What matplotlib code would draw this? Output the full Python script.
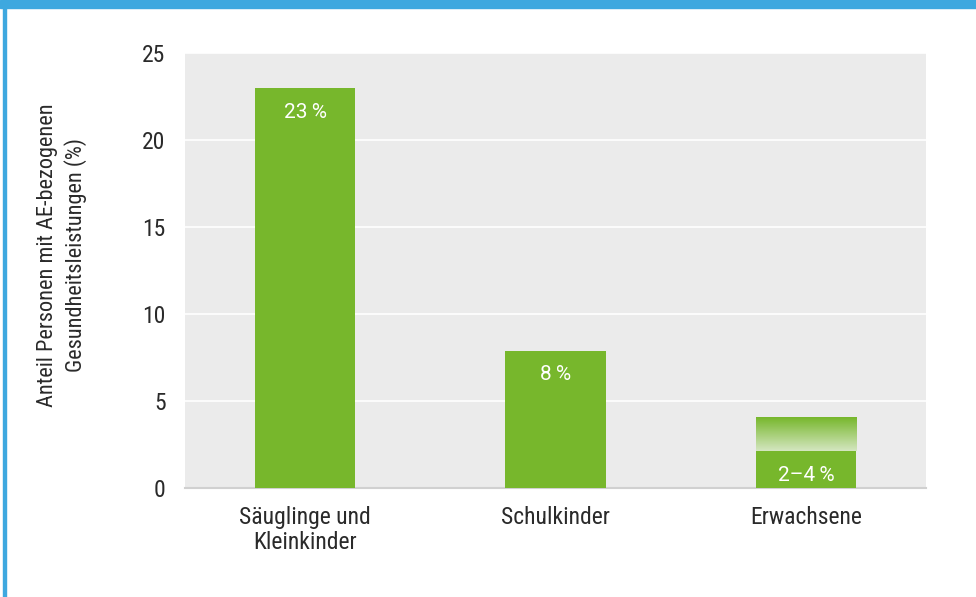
import numpy as np
import matplotlib
matplotlib.use("Agg")
import matplotlib.pyplot as plt
from matplotlib.colors import LinearSegmentedColormap
from matplotlib.patches import Rectangle
from matplotlib import font_manager

# daten
kategorien = ["Säuglinge und\nKleinkinder", "Schulkinder", "Erwachsene"]
werte = [23.0, 7.9, 2.1]           # sicherer Anteil
werte_oben = [23.0, 7.9, 4.0]      # obere Grenze (Spanne bei Erwachsenen)
beschriftung = ["23\u2009%", "8\u2009%", "2\u20134\u2009%"]
yticks = [0, 5, 10, 15, 20, 25]

gruen = "#77b72c"
grau = "#ebebeb"
blau = "#3ea8df"

# schmale schrift wenn vorhanden
vorhanden = {f.name for f in font_manager.fontManager.ttflist}
schrift = [f for f in ["Roboto Condensed", "Liberation Sans Narrow", "Roboto"] if f in vorhanden]
schrift.append("DejaVu Sans")
plt.rcParams["font.family"] = schrift

fig = plt.figure(figsize=(9.76, 5.97), dpi=100)
ax = fig.add_axes([185 / 976, 1 - 488 / 597, 741 / 976, 435 / 597])
ax.set_facecolor(grau)

x = np.arange(len(kategorien))
breite = 0.4
ax.bar(x, werte, width=breite, color=gruen, zorder=3)

# verlauf fuer die spanne
cmap = LinearSegmentedColormap.from_list("verlauf", ["#d4e6c0", gruen])
for xi, lo, hi in zip(x, werte, werte_oben):
    if hi > lo:
        grad = np.linspace(0, 1, 100).reshape(-1, 1)
        ax.imshow(grad, cmap=cmap, aspect="auto", origin="lower",
                  extent=(xi - breite / 2, xi + breite / 2, lo, hi), zorder=3)

for xi, lo, txt in zip(x, werte, beschriftung):
    ax.text(xi, lo - 0.85, txt, color="white", ha="center", va="top",
            fontsize=15, family=["Roboto", "DejaVu Sans"], zorder=4)

ax.set_xlim(-0.48, 2.48)
ax.set_ylim(0, 25)
ax.set_yticks(yticks)
ax.set_xticks(x)
ax.set_xticklabels(kategorien, linespacing=1.1)
ax.grid(axis="y", color="white", linewidth=1.2, zorder=1)
ax.set_axisbelow(True)
for s in ["top", "right", "left"]:
    ax.spines[s].set_visible(False)
ax.spines["bottom"].set_color("#d0d0d0")
ax.spines["bottom"].set_linewidth(1.5)
ax.tick_params(length=0, labelsize=17, colors="#2a2a2a", pad=14)
ax.tick_params(axis="x", pad=13)

fig.text(62 / 976, 1 - 255 / 597,
         "Anteil Personen mit AE-bezogenen\nGesundheitsleistungen (%)",
         rotation=90, ha="center", va="center", fontsize=16,
         color="#2a2a2a", linespacing=1.3, multialignment="center")

# rahmen oben und links
fig.patches.append(Rectangle((0, 1 - 8 / 597), 1, 8 / 597, transform=fig.transFigure,
                             color=blau, zorder=0))
fig.patches.append(Rectangle((3 / 976, 0), 3 / 976, 1, transform=fig.transFigure,
                             color=blau, zorder=0))

fig.savefig("out.png", dpi=100)
